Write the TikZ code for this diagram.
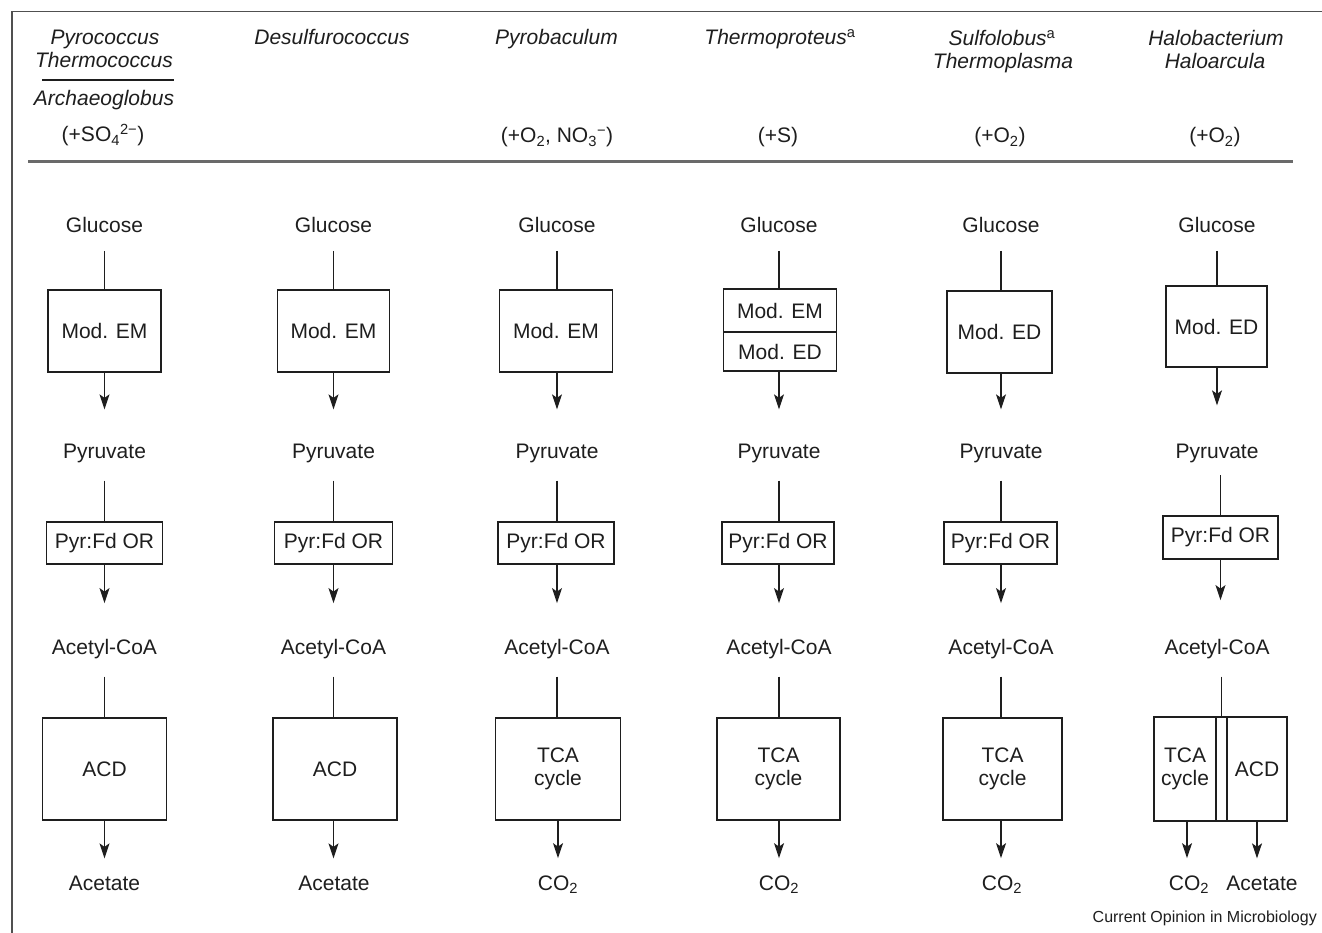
\documentclass[tikz,border=0pt]{standalone}
\usepackage{fontspec}
\setmainfont{Liberation Sans}
\usetikzlibrary{arrows.meta}
\definecolor{ink}{HTML}{1E1E1E}
\definecolor{framec}{HTML}{505050}
\definecolor{rulec}{HTML}{6A6A6A}
\begin{document}
\begin{tikzpicture}[x=1pt,y=-1pt,
  lbl/.style={inner sep=0pt, anchor=base, text=ink, font=\fontsize{21}{23}\selectfont},
  hdr/.style={lbl, font=\fontsize{21}{23}\selectfont\itshape},
  box/.style={draw=ink, line width=1.3pt, inner sep=0pt, text=ink, align=center,
              font=\fontsize{21}{23}\selectfont},
  embox/.style={box, minimum height=82pt},
  pfdbox/.style={box, minimum height=42pt},
  bigbox/.style={box, minimum height=102pt},
  conn/.style={draw=ink, line width=1.2pt, shorten <=18pt},
  arr/.style={draw=ink, line width=1.2pt, -{Stealth[length=15pt,width=10pt,inset=3.5pt]}},
  aone/.style={arr, shorten >=34pt},
  atwo/.style={arr, shorten >=35.5pt},
  athree/.style={arr, shorten >=17pt},
]
\useasboundingbox (0,0) rectangle (1322,933);
\fill[white] (0,0) rectangle (1322,933);
% frame and rules
\draw[framec, line width=1.7pt] (12,933) -- (12,11.5) -- (1322,11.5);
\draw[rulec, line width=3pt] (28,162) -- (1293,162);
\draw[ink, line width=1.2pt] (42,80) -- (174,80);

% header
\node[hdr] (hA1) at (105,45) {Pyrococcus};
\node[hdr] (hA2) at (104,68) {Thermococcus};
\node[hdr] (hA3) at (104,105.5) {Archaeoglobus};
\node[lbl] (hA4) at (103,142) {(+SO\textsubscript{4}\textsuperscript{2−})};
\node[hdr] (hB1) at (332,45) {Desulfurococcus};
\node[hdr] (hC1) at (556.5,45) {Pyrobaculum};
\node[lbl] (hC2) at (557,143) {(+O\textsubscript{2}, NO\textsubscript{3}\textsuperscript{−})};
\node[hdr] (hD1) at (780,45) {Thermoproteus\textsuperscript{\upshape a}};
\node[lbl] (hD2) at (778,143) {(+S)};
\node[hdr] (hE1) at (1002,46) {Sulfolobus\textsuperscript{\upshape a}};
\node[hdr] (hE2) at (1003,69) {Thermoplasma};
\node[lbl] (hE3) at (1000,143) {(+O\textsubscript{2})};
\node[hdr] (hF1) at (1216,46) {Halobacterium};
\node[hdr] (hF2) at (1215,69) {Haloarcula};
\node[lbl] (hF3) at (1215,143) {(+O\textsubscript{2})};

% column 1
\node[lbl] (glc1) at (104.5,232.5) {Glucose};
\node[embox, minimum width=113pt] (em1) at (104.5,331) {Mod. EM};
\node[lbl] (pyr1) at (104.5,458) {Pyruvate};
\node[pfdbox, minimum width=116pt] (pfd1) at (104.5,543) {Pyr:Fd OR};
\node[lbl] (ac1) at (104.5,654) {Acetyl-CoA};
\node[bigbox, minimum width=124pt] (acd1) at (104.5,769) {ACD};
\node[lbl] (out1) at (104.5,890) {Acetate};
\draw[conn] (glc1) -- (glc1 |- em1.north);
\draw[aone] (em1) -- (em1 |- pyr1.north);
\draw[conn] (pyr1) -- (pyr1 |- pfd1.north);
\draw[atwo] (pfd1) -- (pfd1 |- ac1.north);
\draw[conn] (ac1) -- (ac1 |- acd1.north);
\draw[athree] (acd1) -- (acd1 |- out1.north);

% column 2
\node[lbl] (glc2) at (333.5,232.5) {Glucose};
\node[embox, minimum width=112pt] (em2) at (333.5,331) {Mod. EM};
\node[lbl] (pyr2) at (333.5,458) {Pyruvate};
\node[pfdbox, minimum width=118pt] (pfd2) at (333.5,543) {Pyr:Fd OR};
\node[lbl] (ac2) at (333.5,654) {Acetyl-CoA};
\node[bigbox, minimum width=124pt] (acd2) at (335,769) {ACD};
\node[lbl] (out2) at (334,890) {Acetate};
\draw[conn] (glc2) -- (glc2 |- em2.north);
\draw[aone] (em2) -- (em2 |- pyr2.north);
\draw[conn] (pyr2) -- (pyr2 |- pfd2.north);
\draw[atwo] (pfd2) -- (pfd2 |- ac2.north);
\draw[conn] (ac2) -- (ac2 |- acd2.north);
\draw[athree] (ac2 |- acd2.south) -- (ac2 |- out2.north);

% column 3
\node[lbl] (glc3) at (557,232.5) {Glucose};
\node[embox, minimum width=113pt] (em3) at (556,331) {Mod. EM};
\node[lbl] (pyr3) at (557,458) {Pyruvate};
\node[pfdbox, minimum width=116pt] (pfd3) at (556,543) {Pyr:Fd OR};
\node[lbl] (ac3) at (557,654) {Acetyl-CoA};
\node[bigbox, minimum width=125pt] (tca3) at (558,769) {TCA\\cycle};
\node[lbl] (out3) at (558,890) {CO\textsubscript{2}};
\draw[conn] (glc3) -- (glc3 |- em3.north);
\draw[aone] (glc3 |- em3.south) -- (glc3 |- pyr3.north);
\draw[conn] (pyr3) -- (pyr3 |- pfd3.north);
\draw[atwo] (pyr3 |- pfd3.south) -- (pyr3 |- ac3.north);
\draw[conn] (ac3) -- (ac3 |- tca3.north);
\draw[athree] (tca3) -- (tca3 |- out3.north);

% column 4
\node[lbl] (glc4) at (779,232.5) {Glucose};
\node[box, minimum width=113pt, minimum height=43pt] (em4a) at (780,310.5) {Mod. EM};
\node[box, minimum width=113pt, minimum height=39pt] (em4b) at (780,351.5) {Mod. ED};
\node[lbl] (pyr4) at (779,458) {Pyruvate};
\node[pfdbox, minimum width=112pt] (pfd4) at (778,543) {Pyr:Fd OR};
\node[lbl] (ac4) at (779,654) {Acetyl-CoA};
\node[bigbox, minimum width=123pt] (tca4) at (778.5,769) {TCA\\cycle};
\node[lbl] (out4) at (779,890) {CO\textsubscript{2}};
\draw[conn] (glc4) -- (glc4 |- em4a.north);
\draw[aone] (glc4 |- em4b.south) -- (glc4 |- pyr4.north);
\draw[conn] (pyr4) -- (pyr4 |- pfd4.north);
\draw[atwo] (pyr4 |- pfd4.south) -- (pyr4 |- ac4.north);
\draw[conn] (ac4) -- (ac4 |- tca4.north);
\draw[athree] (ac4 |- tca4.south) -- (ac4 |- out4.north);

% column 5
\node[lbl] (glc5) at (1001,232.5) {Glucose};
\node[embox, minimum width=105pt] (em5) at (999.5,332) {Mod. ED};
\node[lbl] (pyr5) at (1001,458) {Pyruvate};
\node[pfdbox, minimum width=113pt] (pfd5) at (1000.5,543) {Pyr:Fd OR};
\node[lbl] (ac5) at (1001,654) {Acetyl-CoA};
\node[bigbox, minimum width=119pt] (tca5) at (1002.5,769) {TCA\\cycle};
\node[lbl] (out5) at (1002,890) {CO\textsubscript{2}};
\draw[conn] (glc5) -- (glc5 |- em5.north);
\draw[aone] (glc5 |- em5.south) -- (glc5 |- pyr5.north);
\draw[conn] (pyr5) -- (pyr5 |- pfd5.north);
\draw[atwo] (pyr5 |- pfd5.south) -- (pyr5 |- ac5.north);
\draw[conn] (ac5) -- (ac5 |- tca5.north);
\draw[athree] (ac5 |- tca5.south) -- (ac5 |- out5.north);

% column 6
\node[lbl] (glc6) at (1217,232.5) {Glucose};
\node[box, minimum width=101pt, minimum height=81pt] (em6) at (1216.5,326.5) {Mod. ED};
\node[lbl] (pyr6) at (1217,458) {Pyruvate};
\node[box, minimum width=115pt, minimum height=43pt] (pfd6) at (1220.5,537.5) {Pyr:Fd OR};
\node[lbl] (ac6) at (1217,654) {Acetyl-CoA};
\node[box, minimum width=62pt, minimum height=104pt] (tca6) at (1185,769) {TCA\\cycle};
\node[box, minimum width=11pt, minimum height=104pt] (link6) at (1221.5,769) {};
\node[box, minimum width=60pt, minimum height=104pt] (acd6) at (1257,769) {ACD};
\node[lbl] (out6a) at (1189,890) {CO\textsubscript{2}};
\node[lbl] (out6b) at (1262,890) {Acetate};
\draw[conn] (glc6) -- (glc6 |- em6.north);
\draw[arr, shorten >=38pt] (glc6 |- em6.south) -- (glc6 |- pyr6.north);
\draw[conn, shorten <=12.5pt] (pfd6 |- pyr6.south) -- (pfd6.north);
\draw[arr, shorten >=38.5pt] (pfd6) -- (pfd6 |- ac6.north);
\draw[conn] (link6 |- ac6.south) -- (link6.north);
\draw[athree] (tca6.south -| out6a.center) ++(-2,0) -- ([xshift=-2pt]out6a.north);
\draw[athree] (acd6) -- (acd6 |- out6b.north);

% credit
\node[anchor=base east, inner sep=0pt, text=ink, font=\fontsize{16}{18}\selectfont] (credit) at (1317,922.5) {Current Opinion in Microbiology};
\end{tikzpicture}
\end{document}
